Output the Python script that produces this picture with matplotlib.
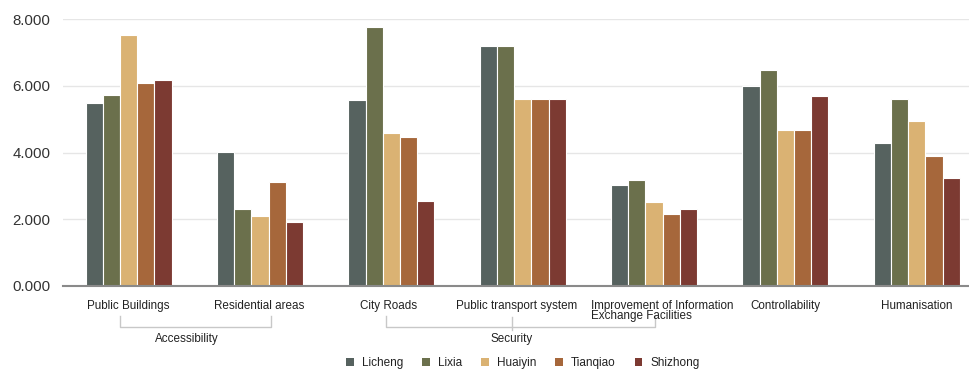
import matplotlib
matplotlib.use("Agg")
import matplotlib.pyplot as plt
import numpy as np
from matplotlib.patches import Patch
from matplotlib.transforms import blended_transform_factory

plt.rcParams['font.family'] = ['Liberation Sans', 'DejaVu Sans']

categories = ["Public Buildings", "Residential areas", "City Roads", "Public transport system",
              "Improvement of Information\nExchange Facilities", "Controllability", "Humanisation"]
series_names = ["Licheng", "Lixia", "Huaiyin", "Tianqiao", "Shizhong"]
licheng = [5.48, 4.01, 5.58, 7.19, 3.02, 6.01, 4.28]
lixia = [5.73, 2.30, 7.76, 7.19, 3.17, 6.49, 5.61]
huaiyin = [7.53, 2.10, 4.59, 5.60, 2.51, 4.68, 4.94]
tianqiao = [6.10, 3.11, 4.47, 5.60, 2.14, 4.68, 3.89]
shizhong = [6.17, 1.90, 2.54, 5.60, 2.29, 5.69, 3.23]
yticks = [0, 2, 4, 6, 8]
groups = ["Accessibility", "Security"]

colors = ["#56625f", "#6b704c", "#dab273", "#a6673b", "#7c3a32"]
values = [licheng, lixia, huaiyin, tianqiao, shizhong]

fig = plt.figure(figsize=(9.7, 3.69), dpi=100)
ax = fig.add_axes([63/970, (369-285.7)/369, (970-63)/970, 266.4/369])

x = np.arange(len(categories))
w = 0.131
for i, (name, vals, c) in enumerate(zip(series_names, values, colors)):
    ax.bar(x + (i - 2) * w, vals, width=w, color=c, edgecolor="white", linewidth=0.8,
           label=name, zorder=3)

ax.set_xlim(-0.5, 6.405)
ax.set_ylim(0, 8)
ax.set_yticks(yticks)
ax.set_yticklabels([f"{v:.3f}" for v in yticks], fontsize=10.8, color="#333333")
ax.yaxis.grid(True, color="#e6e6e6", linewidth=1, zorder=0)
ax.set_axisbelow(True)
for s in ["top", "right", "left"]:
    ax.spines[s].set_visible(False)
ax.spines["bottom"].set_color("#8a8a8a")
ax.spines["bottom"].set_linewidth(1.5)
ax.spines["bottom"].set_zorder(4)
ax.tick_params(axis="y", length=0, pad=9)
ax.set_xticks([])

trans = blended_transform_factory(ax.transData, ax.transAxes)
# category labels (small horizontal nudges as in the reference layout)
nudges = [0, -0.01, -0.02, -0.046, 0.061, 0, 0]
for xi, lab, dx in zip(x, categories, nudges):
    ax.text(xi + dx, -0.052, lab, transform=trans, ha="center", va="top",
            multialignment="left", fontsize=8.4, color="#222222", linespacing=0.85,
            clip_on=False)

y_top = -0.1126
y_bot = -0.156
line_kw = dict(color="#c8c8c8", linewidth=1, transform=trans, clip_on=False)
# Accessibility bracket
a0, a1 = -0.063, 1.084
ax.plot([a0, a0, a1, a1], [y_top, y_bot, y_bot, y_top], **line_kw)
ax.text((a0 + a1) / 2 - 0.07, -0.20, groups[0], transform=trans, ha="center", va="center",
        fontsize=8.4, color="#222222")
# Security bracket
s0, s1, sm = 1.957, 4.008, 2.915
ax.plot([s0, s0, s1, s1], [y_top, y_bot, y_bot, y_top], **line_kw)
ax.plot([sm, sm], [y_top - 0.005, y_bot - 0.012], **line_kw)
ax.text(sm, -0.20, groups[1], transform=trans, ha="center", va="center",
        fontsize=8.4, color="#222222")

handles = [Patch(facecolor=c, edgecolor="none") for c in colors]
fig.legend(handles, series_names, loc="center", bbox_to_anchor=(523/970, 1 - 363/369),
           ncol=5, frameon=False, fontsize=8.5, handlelength=0.65, handleheight=0.65,
           handletextpad=0.7, columnspacing=1.6, labelcolor="#222222")

fig.savefig("out.png", dpi=100)
